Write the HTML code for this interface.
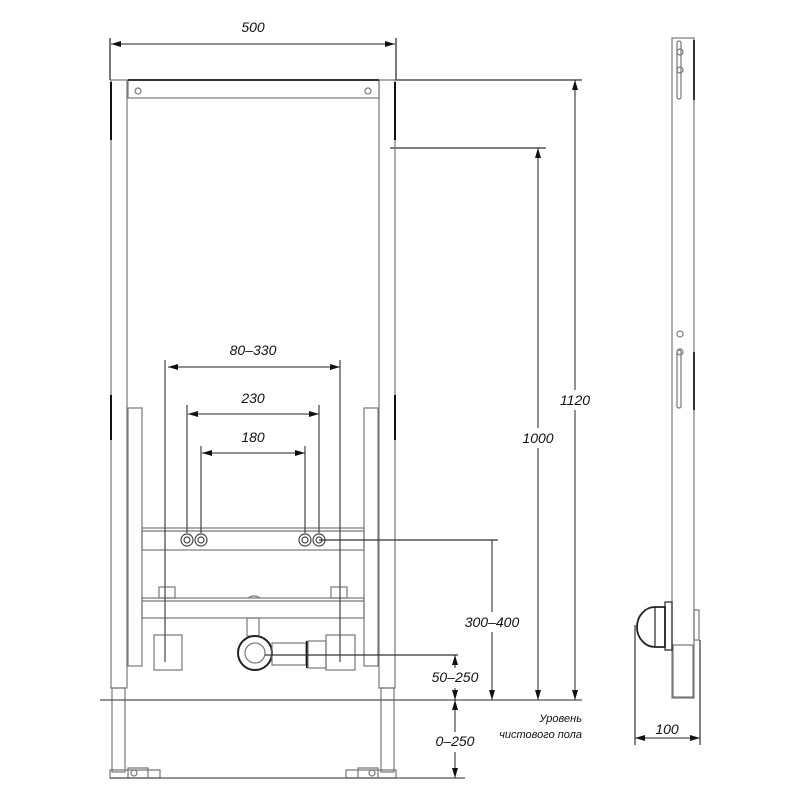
<!DOCTYPE html>
<html><head><meta charset="utf-8"><style>
html,body{margin:0;padding:0;background:#fff}
svg{display:block}
text{font-family:"Liberation Sans","DejaVu Sans",sans-serif;font-style:italic;font-size:14px;fill:#111}
</style></head><body>
<svg width="800" height="800" viewBox="0 0 800 800" xmlns="http://www.w3.org/2000/svg">
<defs>
<marker id="a" viewBox="0 0 10 6" refX="10" refY="3" markerWidth="10" markerHeight="6" orient="auto-start-reverse" markerUnits="userSpaceOnUse"><path d="M0,0 L10,3 L0,6 z" fill="#111"/></marker>
</defs>
<g fill="none" stroke="#777" stroke-width="1.2">
<line x1="110" y1="38" x2="110" y2="80" stroke="#222"/>
<line x1="396" y1="38" x2="396" y2="80" stroke="#222"/>
<line x1="396" y1="80" x2="582" y2="80" stroke="#333"/>
<line x1="390" y1="148" x2="546" y2="148" stroke="#333"/>
<rect x="111" y="80" width="16" height="608"/>
<rect x="379" y="80" width="16" height="608"/>
<line x1="111" y1="82" x2="111" y2="140" stroke="#111" stroke-width="2"/>
<line x1="395" y1="82" x2="395" y2="140" stroke="#111" stroke-width="2"/>
<line x1="111" y1="395" x2="111" y2="440" stroke="#111" stroke-width="2"/>
<line x1="395" y1="395" x2="395" y2="440" stroke="#111" stroke-width="2"/>
<rect x="112" y="688" width="13" height="84"/>
<rect x="381" y="688" width="13" height="84"/>
<path d="M110 770 h50 v8 h-50 z M128 768 h20 v10 h-20z"/>
<path d="M346 770 h50 v8 h-50 z M358 768 h20 v10 h-20z"/>
<circle cx="134" cy="773" r="3"/><circle cx="372" cy="773" r="3"/>
<rect x="128" y="80" width="251" height="18"/>
<line x1="128" y1="80" x2="379" y2="80" stroke="#333" stroke-width="2"/>
<circle cx="138" cy="91" r="3"/><circle cx="368" cy="91" r="3"/>
<rect x="128" y="408" width="14" height="258"/>
<rect x="364" y="408" width="14" height="258"/>
<rect x="142" y="528" width="222" height="22"/>
<line x1="142" y1="531" x2="364" y2="531"/>
<rect x="142" y="598" width="222" height="20"/>
<line x1="142" y1="601" x2="364" y2="601"/>
<path d="M248 598 q6 -4 12 0"/>
<g stroke="#444">
<circle cx="187" cy="540" r="6"/><circle cx="187" cy="540" r="3"/>
<circle cx="201" cy="540" r="6"/><circle cx="201" cy="540" r="3"/>
<circle cx="305" cy="540" r="6"/><circle cx="305" cy="540" r="3"/>
<circle cx="319" cy="540" r="6"/><circle cx="319" cy="540" r="3"/>
</g>
<rect x="159" y="587" width="16" height="11"/>
<rect x="331" y="587" width="16" height="11"/>
<rect x="154" y="635" width="28" height="35"/>
<rect x="326" y="635" width="29" height="35"/>
<rect x="247" y="618" width="12" height="18"/>
<circle cx="255" cy="653" r="17" stroke="#222" stroke-width="2"/>
<circle cx="255" cy="653" r="10"/>
<rect x="272" y="643" width="34" height="22"/>
<line x1="307" y1="641" x2="307" y2="668" stroke="#111" stroke-width="2"/>
<rect x="308" y="641" width="18" height="27"/>
<line x1="100" y1="700" x2="582" y2="700" stroke="#555"/>
<line x1="110" y1="778" x2="465" y2="778" stroke="#555"/>
<rect x="672" y="38" width="22" height="660"/>
<line x1="694" y1="40" x2="694" y2="100" stroke="#333" stroke-width="2"/>
<line x1="694" y1="352" x2="694" y2="410" stroke="#333" stroke-width="2"/>
<rect x="677" y="41" width="4" height="58" rx="2"/>
<rect x="677" y="350" width="4" height="58" rx="2"/>
<circle cx="680" cy="52" r="3"/><circle cx="680" cy="70" r="3"/>
<circle cx="680" cy="334" r="3"/><circle cx="680" cy="352" r="3"/>
<rect x="673" y="645" width="20" height="52"/>
<path d="M665 607 h-10 a18 20 0 0 0 0 40 h10 z" stroke="#222" stroke-width="1.8"/>
<line x1="655" y1="607" x2="655" y2="647" stroke="#222"/>
<rect x="665" y="602" width="7" height="48" stroke="#222"/>
<rect x="694" y="610" width="5" height="30"/>
<line x1="635" y1="625" x2="635" y2="745" stroke="#333"/>
<line x1="700" y1="640" x2="700" y2="745" stroke="#333"/>
<line x1="165" y1="360" x2="165" y2="662" stroke="#444"/>
<line x1="340" y1="360" x2="340" y2="662" stroke="#444"/>
<line x1="187" y1="405" x2="187" y2="533" stroke="#444"/>
<line x1="319" y1="405" x2="319" y2="533" stroke="#444"/>
<line x1="201" y1="446" x2="201" y2="533" stroke="#444"/>
<line x1="305" y1="446" x2="305" y2="533" stroke="#444"/>
<line x1="319" y1="540" x2="498" y2="540" stroke="#333"/>
<line x1="265" y1="655" x2="458" y2="655" stroke="#333"/>
</g>
<g stroke="#222" stroke-width="1" fill="none">
<line x1="111" y1="44" x2="395" y2="44" marker-start="url(#a)" marker-end="url(#a)"/>
<line x1="168" y1="367" x2="340" y2="367" marker-start="url(#a)" marker-end="url(#a)"/>
<line x1="188" y1="414" x2="319" y2="414" marker-start="url(#a)" marker-end="url(#a)"/>
<line x1="202" y1="453" x2="305" y2="453" marker-start="url(#a)" marker-end="url(#a)"/>
<line x1="575" y1="80" x2="575" y2="700" marker-start="url(#a)" marker-end="url(#a)"/>
<line x1="538" y1="148" x2="538" y2="700" marker-start="url(#a)" marker-end="url(#a)"/>
<line x1="492" y1="540" x2="492" y2="700" marker-end="url(#a)"/>
<line x1="455" y1="655" x2="455" y2="700" marker-start="url(#a)" marker-end="url(#a)"/>
<line x1="455" y1="700" x2="455" y2="778" marker-start="url(#a)" marker-end="url(#a)"/>
<line x1="635" y1="738" x2="700" y2="738" marker-start="url(#a)" marker-end="url(#a)"/>
</g>
<g text-anchor="middle">
<rect x="230" y="18" width="46" height="18" fill="#fff"/>
<text x="253" y="32">500</text>
<text x="253" y="355">80–330</text>
<text x="253" y="403">230</text>
<text x="253" y="442">180</text>
<rect x="556" y="390" width="38" height="20" fill="#fff"/>
<text x="575" y="405">1120</text>
<rect x="519" y="428" width="38" height="20" fill="#fff"/>
<text x="538" y="443">1000</text>
<rect x="464" y="612" width="56" height="20" fill="#fff"/>
<text x="492" y="627">300–400</text>
<rect x="430" y="668" width="50" height="20" fill="#fff"/>
<text x="455" y="682">50–250</text>
<rect x="432" y="732" width="46" height="20" fill="#fff"/>
<text x="455" y="746">0–250</text>
<text x="667" y="734">100</text>
</g>
<text x="582" y="722" text-anchor="end" style="font-size:11px">Уровень</text>
<text x="582" y="738" text-anchor="end" style="font-size:11px">чистового пола</text>
</svg>
</body></html>
